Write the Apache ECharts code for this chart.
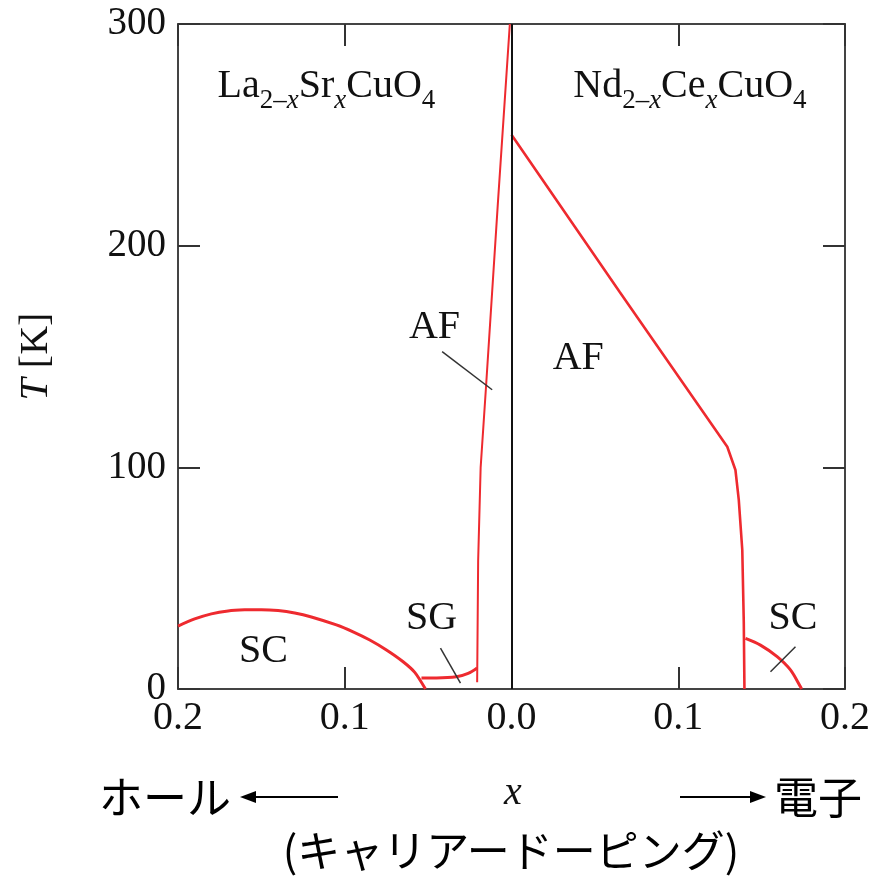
<!DOCTYPE html>
<html><head><meta charset="utf-8">
<script src="https://cdn.jsdelivr.net/npm/echarts@6/dist/echarts.min.js"></script>
<style>html,body{margin:0;padding:0;background:#fff}#c{width:873px;height:877px}</style>
</head><body><div id="c"></div>
<script>
// ---- data (x < 0: hole doping La2-xSrxCuO4, x > 0: electron doping Nd2-xCexCuO4) ----
const lscoScX = [-0.2, -0.19, -0.18, -0.17, -0.16, -0.15, -0.14, -0.13, -0.12, -0.105, -0.095, -0.085, -0.075, -0.065, -0.058, -0.0516];
const lscoScT = [28.4, 31.6, 33.9, 35.2, 35.7, 35.8, 35.4, 34.3, 32.5, 28.9, 25.8, 22.1, 17.6, 12.3, 7.5, 0];
const lscoSgX = [-0.054, -0.045, -0.033, -0.026, -0.0206];
const lscoSgT = [5, 5, 5.5, 7, 9.5];
const lscoAfX = [-0.0206, -0.0200, -0.0185, -0.0154, -0.0081, -0.0041, -0.001];
const lscoAfT = [3, 58, 100, 135, 220, 265, 300];
const nccoAfX = [0, 0.065, 0.1294, 0.1343, 0.1363, 0.1384, 0.1393, 0.1397];
const nccoAfT = [250, 179, 109.3, 98.8, 85.3, 62.7, 30, 0];
const nccoScX = [0.1403, 0.1493, 0.1593, 0.1673, 0.1733, 0.174];
const nccoScT = [22.8, 19.8, 14.6, 8.6, 1.0, 0];
// leader lines for annotations
const leaderAF = [[-0.0416, 152.2], [-0.0116, 135]];
const leaderSG = [[-0.0426, 18.4], [-0.0306, 2.6]];
const leaderSC = [[0.1553, 7.8], [0.1703, 19.1]];
// text labels inside plot
const labelText = ['{m|La}{s|2–}{si|x}{m|Sr}{si|x}{m|CuO}{s|4}', '{m|Nd}{s|2–}{si|x}{m|Ce}{si|x}{m|CuO}{s|4}', 'AF', 'AF', 'SG', 'SC', 'SC'];
const labelX = [-0.111, 0.107, -0.0462, 0.040, -0.048, -0.1487, 0.1688];
const labelT = [272, 272, 163.3, 149.3, 31.6, 17.1, 32];
const xTicks = [-0.2, 0.2, 0.1];
const yTicks = [0, 300, 100];

const SERIF = '"Liberation Serif", "Times New Roman", serif';
const JP = '"Noto Sans CJK JP", sans-serif';
const RED = '#ee2a2f';
const TXT = '#111';

function pts(xs, ts) { return xs.map((x, i) => [x, ts[i]]); }
function curve(xs, ts, w, smooth) {
  return { type: 'line', data: pts(xs, ts), showSymbol: false, symbol: 'none', smooth: smooth || false,
    lineStyle: { color: RED, width: w }, silent: true, z: 3 };
}
function leader(p) {
  return { type: 'line', data: p, showSymbol: false, symbol: 'none',
    lineStyle: { color: '#333', width: 1.5 }, silent: true, z: 4 };
}

const axisLine = { show: true, onZero: false, lineStyle: { color: '#444', width: 2 } };
const axisTick = { show: true, inside: true, length: 22, lineStyle: { color: '#333', width: 2 } };

const chart = echarts.init(document.getElementById('c'));
chart.setOption({
  animation: false,
  backgroundColor: '#fff',
  grid: { left: 178, right: 28, top: 24, bottom: 188 },
  xAxis: [
    { type: 'value', min: xTicks[0], max: xTicks[1], interval: xTicks[2], position: 'bottom',
      axisLine, axisTick, splitLine: { show: false },
      axisLabel: { formatter: v => Math.abs(v).toFixed(1), fontFamily: SERIF, fontSize: 40, color: TXT, margin: 9 } },
    { type: 'value', min: xTicks[0], max: xTicks[1], interval: xTicks[2], position: 'top',
      axisLine, axisTick, splitLine: { show: false }, axisLabel: { show: false } }
  ],
  yAxis: [
    { type: 'value', min: yTicks[0], max: yTicks[1], interval: yTicks[2], position: 'left',
      axisLine, axisTick, splitLine: { show: false },
      axisLabel: { fontFamily: SERIF, fontSize: 39, color: TXT, margin: 12 },
      name: '{i|T} [K]', nameLocation: 'middle', nameGap: 122,
      nameTextStyle: { fontFamily: SERIF, fontSize: 40, color: TXT,
        rich: { i: { fontFamily: SERIF, fontSize: 40, fontStyle: 'italic', color: TXT } } } },
    { type: 'value', min: yTicks[0], max: yTicks[1], interval: yTicks[2], position: 'right',
      axisLine, axisTick, splitLine: { show: false }, axisLabel: { show: false } }
  ],
  series: [
    curve(lscoScX, lscoScT, 3, 0.25),
    curve(lscoSgX, lscoSgT, 3, 0.3),
    curve(lscoAfX, lscoAfT, 2, false),
    curve(nccoAfX, nccoAfT, 2.6, false),
    curve(nccoScX, nccoScT, 3, 0.3),
    leader(leaderAF), leader(leaderSG), leader(leaderSC),
    { type: 'line', data: [], silent: true,
      markLine: { symbol: 'none', silent: true, label: { show: false },
        lineStyle: { color: '#111', width: 2, type: 'solid' }, data: [{ xAxis: 0 }] } },
    { type: 'scatter', symbolSize: 0, itemStyle: { color: 'rgba(0,0,0,0)', opacity: 1 }, silent: true, z: 5,
      data: labelText.map((t, i) => ({ value: [labelX[i], labelT[i]], label: { formatter: t } })),
      label: { show: true, position: 'inside', fontFamily: SERIF, fontSize: 40, color: TXT, opacity: 1,
        rich: {
          m: { fontFamily: SERIF, fontSize: 40, color: TXT },
          s: { fontFamily: SERIF, fontSize: 27, color: TXT, padding: [30, 0, 0, 0], verticalAlign: 'top' },
          si: { fontFamily: SERIF, fontSize: 27, fontStyle: 'italic', color: TXT, padding: [30, 0, 0, 0], verticalAlign: 'top' }
        } } }
  ],
  graphic: [
    { type: 'text', x: 165, y: 797, style: { text: 'ホール', font: '44px ' + JP, fill: '#000', textAlign: 'center', textVerticalAlign: 'middle' } },
    { type: 'line', shape: { x1: 252, y1: 797, x2: 338, y2: 797 }, style: { stroke: '#000', lineWidth: 2 } },
    { type: 'polygon', shape: { points: [[240, 797], [256, 791], [256, 803]] }, style: { fill: '#000' } },
    { type: 'text', x: 513, y: 793, style: { text: 'x', font: 'italic 40px ' + SERIF, fill: TXT, textAlign: 'center', textVerticalAlign: 'middle' } },
    { type: 'line', shape: { x1: 680, y1: 797, x2: 754, y2: 797 }, style: { stroke: '#000', lineWidth: 2 } },
    { type: 'polygon', shape: { points: [[766, 797], [750, 791], [750, 803]] }, style: { fill: '#000' } },
    { type: 'text', x: 818, y: 797, style: { text: '電子', font: '44px ' + JP, fill: '#000', textAlign: 'center', textVerticalAlign: 'middle' } },
    { type: 'text', x: 511, y: 851, style: { text: '(キャリアードーピング)', font: '43px ' + JP, fill: '#000', textAlign: 'center', textVerticalAlign: 'middle' } }
  ]
});
</script>
</body></html>
